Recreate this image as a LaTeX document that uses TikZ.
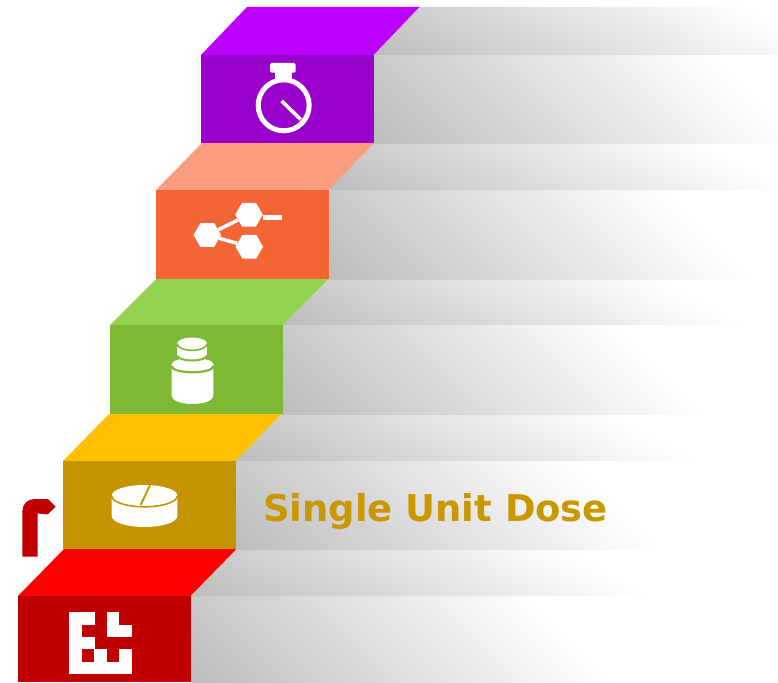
\documentclass[tikz,border=0pt]{standalone}
\usepackage{fontspec}
\setmainfont{DejaVu Sans}
\usetikzlibrary{shapes.geometric}
\definecolor{frontA}{HTML}{C00000}
\definecolor{topA}{HTML}{FF0000}
\definecolor{frontB}{HTML}{C49500}
\definecolor{topB}{HTML}{FFC000}
\definecolor{frontC}{HTML}{7DB935}
\definecolor{topC}{HTML}{93D350}
\definecolor{frontD}{HTML}{F46536}
\definecolor{topD}{HTML}{FA9C80}
\definecolor{frontE}{HTML}{9900CC}
\definecolor{topE}{HTML}{BB00FF}
\definecolor{doselabel}{HTML}{C99700}
\definecolor{sidedark}{HTML}{BCBCBC}
\pgfdeclarehorizontalshading{frontfade}{100bp}{color(0bp)=(sidedark); color(50bp)=(sidedark); color(62.6bp)=(white); color(100bp)=(white)}
\pgfdeclarehorizontalshading{topfade}{100bp}{color(0bp)=(sidedark); color(50bp)=(sidedark); color(59.1bp)=(white); color(100bp)=(white)}
\tikzset{
  sideface/.style={shading=frontfade,shading angle=45},
  topside/.style={shading=topfade,shading angle=62},
  hexnode/.style={regular polygon,regular polygon sides=6,fill=white,minimum size=27.5pt,inner sep=0pt},
}
\begin{document}
\begin{tikzpicture}[x=1pt,y=-1pt]
  \clip (0,0) rectangle (778,682);
  \fill[white] (0,0) rectangle (778,682);
  % steps, bottom one first
  \foreach \xa/\ya/\yb/\yc/\st in {18/596/682/549/A,63/461/549/414/B,110/325/414/279/C,156/190/279/143/D,201/55/143/7/E}{%
    \pgfmathsetmacro{\xb}{\xa+172.5}
    \begin{scope}
      \clip (\xb,\ya) rectangle (778,\yb);
      \shade[sideface] (\xb-600,\yb-600) rectangle (\xb+600,\yb+600);
    \end{scope}
    \begin{scope}
      \clip (\xb,\ya) -- (\xb+46,\yc) -- (778,\yc) -- (778,\ya) -- cycle;
      \shade[topside] (\xb-600,\ya-600) rectangle (\xb+600,\ya+600);
    \end{scope}
    \fill[top\st] (\xa,\ya) -- (\xa+46,\yc) -- (\xb+46,\yc) -- (\xb,\ya) -- cycle;
    \fill[front\st] (\xa,\ya) rectangle (\xb,\yb);
  }

  % code mark
  \fill[white] (69,612.3) rectangle (95,624.7);
  \fill[white] (106.5,612.3) rectangle (119.3,624.7);
  \fill[white] (69,624.7) rectangle (82,637);
  \fill[white] (106.5,624.7) rectangle (132,637);
  \fill[white] (69,637) rectangle (95,649);
  \fill[white] (69,649) rectangle (82,661.5);
  \fill[white] (94.3,649) rectangle (106.5,661.5);
  \fill[white] (119.3,649) rectangle (132,661.5);
  \fill[white] (69,661.5) rectangle (132,673.7);

  % bent arrow
  \fill[frontA] (22.3,556.7) -- (22.3,511) arc[start angle=180,end angle=270,radius=12] -- (48,499)
    -- (55.7,506.7) -- (47.7,514.3) -- (37.7,513.5) -- (37.7,556.7) -- cycle;

  % pill
  \fill[white] (111.7,496) -- (111.7,516) arc[start angle=180,end angle=0,x radius=32.8,y radius=11] -- (177.3,496) -- cycle;
  \fill[white] (144.5,495.5) ellipse[x radius=32.8,y radius=10.5];
  \draw[frontB,line width=1.6pt] (111.7,496) arc[start angle=180,end angle=0,x radius=32.8,y radius=10.8];
  \draw[frontB,line width=1.9pt] (150,485) -- (140.7,505);

  % bottle
  \fill[white] (171.7,364) -- (171.7,396) arc[start angle=180,end angle=0,x radius=20.8,y radius=8] -- (213.3,364) arc[start angle=0,end angle=-180,x radius=20.8,y radius=6] -- cycle;
  \fill[white] (177.3,344) rectangle (207,356);
  \fill[white] (177.3,356) arc[start angle=180,end angle=0,x radius=14.85,y radius=4.5] -- cycle;
  \fill[white] (192.1,343.3) ellipse[x radius=14.85,y radius=5.7];
  \draw[frontC,line width=1.6pt] (177.3,344) arc[start angle=180,end angle=0,x radius=14.85,y radius=6.3];
  \draw[frontC,line width=2pt] (177.3,355.5) arc[start angle=180,end angle=0,x radius=14.85,y radius=5];
  \draw[frontC,line width=2.2pt] (171.7,366.3) arc[start angle=180,end angle=0,x radius=20.8,y radius=6];

  % share mark
  \node[hexnode] (H-1) at (207.3,235) {};
  \node[hexnode] (H-2) at (249,214.7) {};
  \node[hexnode] (H-3) at (249.3,246.7) {};
  \coordinate (H-end) at (281.7,217.3);
  \path (H-1) edge[white,line width=3.5pt] (H-2);
  \path (H-1) edge[white,line width=3.5pt] (H-3);
  \path (H-2.east |- H-end) edge[white,line width=4.6pt] (H-end);

  % stopwatch
  \fill[white,rounded corners=1.5pt] (270,63) rectangle (295.7,72.7);
  \fill[white] (275,72) rectangle (292,80);
  \draw[white,line width=5pt,fill=frontE] (283.7,105.3) circle[radius=25.5];
  \draw[white,line width=3.6pt] (281.7,101) -- (300.7,119.5);

  \node[text=doselabel,font=\bfseries\fontsize{36.9pt}{44pt}\selectfont,anchor=base west,inner sep=0pt] (T-2) at (263,521) {Single Unit Dose};
\end{tikzpicture}
\end{document}
